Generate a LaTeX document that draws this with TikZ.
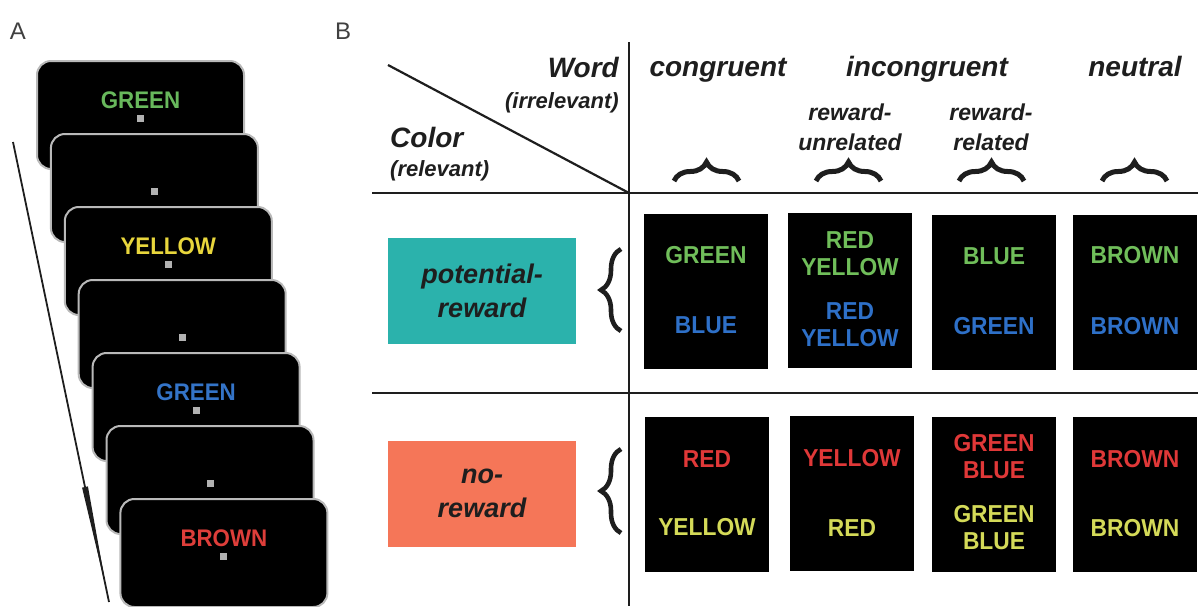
\documentclass[tikz,border=0pt]{standalone}
\usepackage{fontspec}
\setmainfont{Liberation Sans}
\newfontfamily\stimfont[FakeStretch=0.93]{Liberation Sans}
\usetikzlibrary{arrows.meta,decorations.pathreplacing,calc}

\definecolor{agreen}{RGB}{104,184,92}
\definecolor{ayellow}{RGB}{232,214,60}
\definecolor{ablue}{RGB}{52,116,200}
\definecolor{ared}{RGB}{222,62,58}
\definecolor{bgreen}{RGB}{112,190,90}
\definecolor{bblue}{RGB}{46,112,200}
\definecolor{bred}{RGB}{224,56,56}
\definecolor{byellow}{RGB}{212,218,88}
\definecolor{potteal}{RGB}{43,178,172}
\definecolor{nosalmon}{RGB}{245,118,88}
\definecolor{ink}{RGB}{30,30,30}

\tikzset{
  rule/.style={line width=2.2pt, draw=ink},
  panel/.style={font=\fontsize{24}{26}\selectfont, text=ink!85, inner sep=0pt},
  hdr/.style={font=\fontsize{28}{30}\selectfont\bfseries\itshape, text=ink, inner sep=0pt},
  subhdr/.style={font=\fontsize{22}{24}\selectfont\bfseries\itshape, text=ink, inner sep=0pt},
  colhdr/.style={font=\fontsize{23}{30}\selectfont\bfseries\itshape, text=ink, align=center, inner sep=0pt},
  screen/.style={draw=gray!55, line width=2pt, fill=black, rounded corners=14pt,
                 minimum width=207pt, minimum height=108pt, inner sep=0pt},
  fixdot/.style={fill=gray!60, minimum size=7pt, inner sep=0pt},
  stim/.style={font=\stimfont\fontsize{24}{26}\selectfont\bfseries, inner sep=0pt},
  card/.style={fill=black, minimum width=124pt, minimum height=155pt, inner sep=0pt},
  cword/.style={font=\stimfont\fontsize{24.5}{27}\selectfont\bfseries, align=center, inner sep=0pt},
  condbox/.style={minimum width=188pt, minimum height=106pt, inner sep=0pt,
                  font=\fontsize{27}{34}\selectfont\bfseries\itshape, text=ink, align=center},
  hbrace/.style={draw=ink, line width=5pt, decorate, decoration={brace, amplitude=19pt}},
  vbrace/.style={draw=ink, line width=4.6pt, decorate, decoration={brace, amplitude=20pt}},
}

\begin{document}
\begin{tikzpicture}[x=1pt, y=-1pt]
\useasboundingbox (0,0) rectangle (1198,606);

% ---------- panel A: stimulus sequence ----------
\node[panel] (labA) at (18,31) {A};

% time axis with a long, thin spike at its end
\coordinate (t0) at (13,142);
\coordinate (t1) at (109,602);
\draw[line width=1.8pt, draw=ink] (t0) -- (t1);
\coordinate (sp0) at ($(t0)!0.75!(t1)$);
\coordinate (sp1) at ($(t0)!0.975!(t1)$);
\fill[ink] ($(sp0)!3pt!90:(t1)$) -- ($(sp0)!3pt!-90:(t1)$) -- (sp1) -- cycle;

\foreach \i/\w/\c in {0/GREEN/agreen, 1//black, 2/YELLOW/ayellow, 3//black,
                      4/GREEN/ablue, 5//black, 6/BROWN/ared} {
  \node[screen, anchor=north west] (scr\i) at ({36+13.9*\i},{60+73*\i}) {};
  \node[stim, text=\c] (word\i) at ($(scr\i.north)+(0,40)$) {\w};
  \node[fixdot] (fix\i) at ($(scr\i.north)+(0,58)$) {};
}

% ---------- panel B: design table ----------
\node[panel] (labB) at (343,31) {B};

\coordinate (hl0) at (372,193);
\coordinate (hl1) at (1198,193);
\coordinate (ml0) at (372,393);
\coordinate (ml1) at (1198,393);
\coordinate (vl0) at (629,42);
\coordinate (vl1) at (629,606);
\coordinate (dg0) at (388,65);
\coordinate (dg1) at (629,193);
\draw[rule] (hl0) -- (hl1);
\draw[rule] (ml0) -- (ml1);
\draw[rule] (vl0) -- (vl1);
\draw[rule] (dg0) -- (dg1);

% corner labels
\node[hdr, anchor=base east] (word) at (619,77) {Word};
\node[subhdr, anchor=base east] (irr) at (619,108) {(irrelevant)};
\node[hdr, anchor=base west] (color) at (390,147) {Color};
\node[subhdr, anchor=base west] (rel) at (390,176) {(relevant)};

% column headers
\node[hdr, anchor=base] (cong) at (718,76) {congruent};
\node[hdr, anchor=base] (incong) at (927,76) {incongruent};
\node[hdr, anchor=base] (neut) at (1135,76) {neutral};
\node[colhdr] (runrel) at (850,127) {reward-\\unrelated};
\node[colhdr] (rrel) at (991,127) {reward-\\related};

\draw[hbrace] (674,181) -- (739,181);
\draw[hbrace] (816,181) -- (881,181);
\draw[hbrace] (959,181) -- (1024,181);
\draw[hbrace] (1102,181) -- (1167,181);

% row headers
\node[condbox, fill=potteal] (pot) at (482,291) {potential-\\reward};
\node[condbox, fill=nosalmon] (nor) at (482,493.5) {no-\\reward};
\draw[vbrace] (621,331) -- (621,249);
\draw[vbrace] (621,533) -- (621,449);

% stimulus cards, potential-reward row
\node[card] (c11) at (706,291) {};
\node[card] (c12) at (850,290) {};
\node[card] (c13) at (994,292) {};
\node[card] (c14) at (1135,292) {};
% stimulus cards, no-reward row
\node[card] (c21) at (707,494) {};
\node[card] (c22) at (852,493) {};
\node[card] (c23) at (994,494) {};
\node[card] (c24) at (1135,494) {};

\foreach \k/\dy/\tx/\col [count=\n] in {
  c11/-36/GREEN/bgreen, c11/34/BLUE/bblue,
  c12/-36/RED\\YELLOW/bgreen, c12/35/RED\\YELLOW/bblue,
  c13/-36/BLUE/bgreen, c13/34/GREEN/bblue,
  c14/-37/BROWN/bgreen, c14/34/BROWN/bblue,
  c21/-35/RED/bred, c21/33/YELLOW/byellow,
  c22/-35/YELLOW/bred, c22/35/RED/byellow,
  c23/-37/GREEN\\BLUE/bred, c23/34/GREEN\\BLUE/byellow,
  c24/-35/BROWN/bred, c24/34/BROWN/byellow} {
  \node[cword, text=\col] (cw\n) at ($(\k.center)+(0,\dy)$) {\tx};
}
\end{tikzpicture}
\end{document}
